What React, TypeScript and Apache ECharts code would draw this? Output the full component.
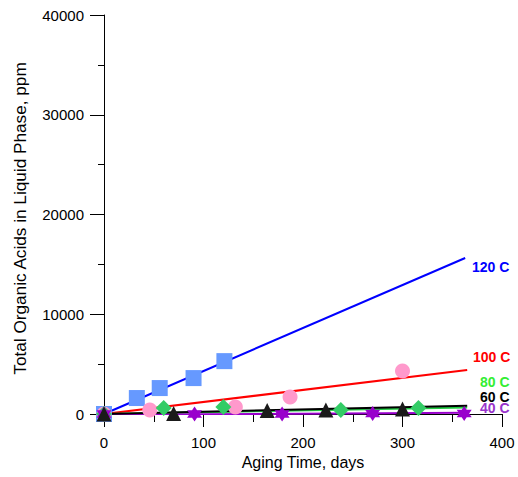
import React, { useEffect, useRef } from "react";
import * as echarts from "echarts";

const xTicks = [0, 100, 200, 300, 400];
const yTicks = [0, 10000, 20000, 30000, 40000];

const pts120: [number, number][] = [[0, 0], [33, 1600], [56, 2600], [90, 3600], [121, 5300]];
const fit120: [number, number][] = [[0, 0], [363, 15640]];

const pts100: [number, number][] = [[0, 0], [46, 400], [132, 700], [187, 1700], [300, 4300]];
const fit100: [number, number][] = [[0, 0], [365, 4400]];

const pts80: [number, number][] = [[0, 0], [60, 600], [120, 700], [238, 400], [316, 600]];
const fit80: [number, number][] = [[0, 0], [365, 650]];

const pts60: [number, number][] = [[0, 0], [70, 50], [164, 350], [223, 400], [300, 500]];
const fit60: [number, number][] = [[0, 0], [365, 820]];

const pts40: [number, number][] = [[0, 0], [91, 0], [179, 0], [270, 50], [362, 50]];
const fit40: [number, number][] = [[0, -80], [365, 120]];

const labels = ["120 C", "100 C", "80 C", "60 C", "40 C"];

const STAR = "path://M10,0 L18.66,15 L1.34,15 Z M10,20 L1.34,5 L18.66,5 Z";
const FONT = "Liberation Sans, Arial, sans-serif";

export default function App() {
  const ref = useRef<HTMLDivElement>(null);
  useEffect(() => {
    const chart = echarts.init(ref.current!, null, { renderer: "svg" });
    const fit = (data: [number, number][], color: string, z = 2) => ({
      type: "line",
      data,
      showSymbol: false,
      symbol: "none",
      lineStyle: { color, width: 2 },
      z,
      silent: true,
    });
    const sc = (data: [number, number][], symbol: string, size: number, color: string, z = 3) => ({
      type: "scatter",
      data,
      symbol,
      symbolSize: size,
      itemStyle: { color, opacity: 1 },
      z,
    });
    const lab = (text: string, x: number, y: number, fill: string) => ({
      type: "text",
      x,
      y,
      style: { text, fill, font: `bold 14px ${FONT}`, verticalAlign: "middle", align: "left" },
      z: 10,
    });
    chart.setOption({
      animation: false,
      grid: { left: 104, right: 16, top: 15, bottom: 63 },
      xAxis: {
        type: "value",
        min: xTicks[0],
        max: xTicks[xTicks.length - 1],
        interval: 100,
        name: "Aging Time, days",
        nameLocation: "middle",
        nameGap: 38,
        nameTextStyle: { fontFamily: FONT, fontSize: 16, color: "#000" },
        axisLine: { show: true, onZero: false, lineStyle: { color: "#000", width: 1 } },
        axisTick: { show: true, inside: false, length: 13, lineStyle: { color: "#000" } },
        minorTick: { show: true, splitNumber: 2, length: 8, lineStyle: { color: "#000" } },
        axisLabel: { fontFamily: FONT, fontSize: 15, color: "#000", margin: 21 },
        splitLine: { show: false },
      },
      yAxis: {
        type: "value",
        min: yTicks[0],
        max: yTicks[yTicks.length - 1],
        interval: 10000,
        name: "Total Organic Acids in Liquid Phase, ppm",
        nameLocation: "middle",
        nameGap: 76,
        nameTextStyle: { fontFamily: FONT, fontSize: 17.2, color: "#000", padding: [0, 8, 0, 0] },
        axisLine: { show: true, lineStyle: { color: "#000", width: 1 } },
        axisTick: { show: true, inside: false, length: 14, lineStyle: { color: "#000" } },
        minorTick: { show: true, splitNumber: 2, length: 6, lineStyle: { color: "#000" } },
        axisLabel: {
          fontFamily: FONT,
          fontSize: 15,
          color: "#000",
          margin: 20,
          formatter: (v: number) => String(v),
        },
        splitLine: { show: false },
      },
      series: [
        fit(fit120, "#0000ff"),
        fit(fit100, "#ff0000"),
        fit(fit80, "#22cc44"),
        fit(fit40, "#9900cc"),
        fit(fit60, "#000000"),
        sc(pts120, "rect", 16, "#6699ff"),
        sc(pts100, "circle", 15, "#ff99cc"),
        sc(pts80, "diamond", 16, "#33cc66"),
        sc(pts40, STAR, 15, "#9900cc"),
        sc(pts60, "triangle", 15, "#1a1a1a", 4),
      ],
      graphic: [
        lab(labels[0], 472, 267, "#0000ff"),
        lab(labels[1], 473, 357, "#ff0000"),
        lab(labels[2], 480, 382, "#33ee33"),
        lab(labels[3], 480, 397, "#000000"),
        lab(labels[4], 480, 408, "#9933cc"),
      ],
    });
    return () => chart.dispose();
  }, []);
  return (
    <div
      ref={ref}
      style={{ position: "absolute", left: 0, top: 0, width: 518, height: 477, background: "#fff" }}
    />
  );
}
